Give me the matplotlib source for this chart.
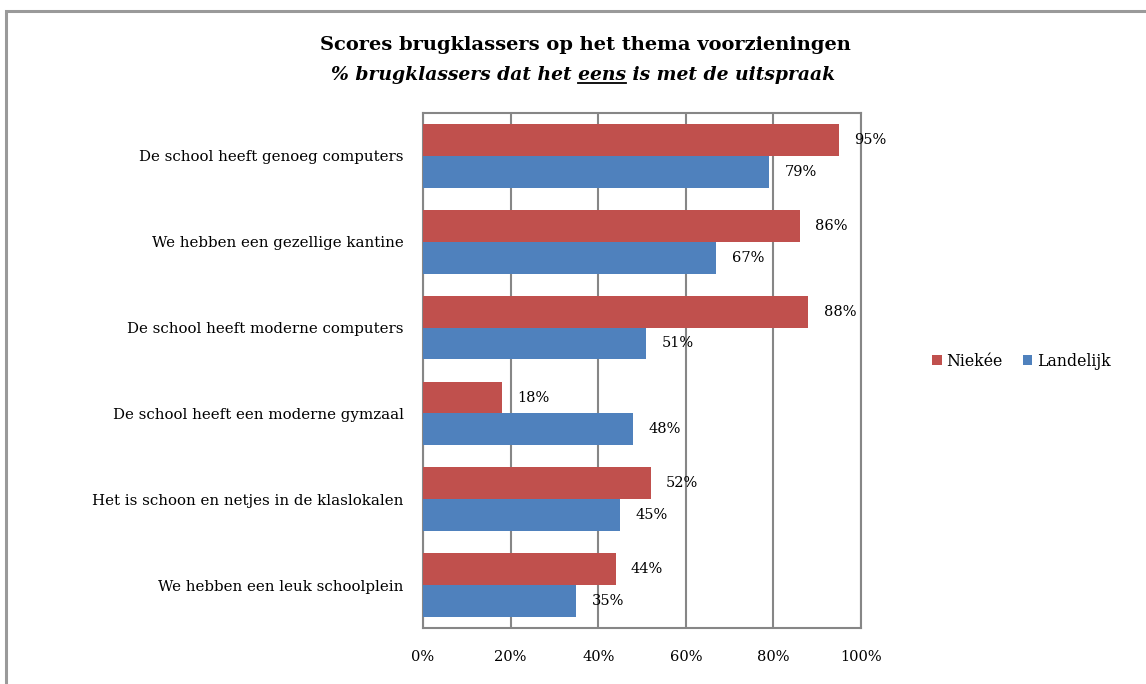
import numpy as np
import matplotlib
matplotlib.use("Agg")
import matplotlib.pyplot as plt
from matplotlib.patches import Rectangle
from matplotlib.lines import Line2D

plt.rcParams['font.family'] = ['DejaVu Serif']

categories = [
    "De school heeft genoeg computers",
    "We hebben een gezellige kantine",
    "De school heeft moderne computers",
    "De school heeft een moderne gymzaal",
    "Het is schoon en netjes in de klaslokalen",
    "We hebben een leuk schoolplein",
]
niekee = [95, 86, 88, 18, 52, 44]
landelijk = [79, 67, 51, 48, 45, 35]
x_ticks = [0, 20, 40, 60, 80, 100]

red = "#C0504D"
blue = "#4F81BD"
grid_col = "#868686"

fig = plt.figure(figsize=(11.46, 6.84), dpi=100)
ax = fig.add_axes([423 / 1146, 1 - 628 / 684, 438 / 1146, 515 / 684])

y = np.arange(len(categories))
h = 0.37
ax.barh(y - h / 2, niekee, height=h, color=red, label="Niekée", zorder=3)
ax.barh(y + h / 2, landelijk, height=h, color=blue, label="Landelijk", zorder=3)

# data labels
for i in range(len(categories)):
    ax.annotate(f"{niekee[i]}%", (niekee[i], y[i] - h / 2), xytext=(11, 0),
                textcoords="offset points", va="center", ha="left", fontsize=10.5, zorder=4)
    ax.annotate(f"{landelijk[i]}%", (landelijk[i], y[i] + h / 2), xytext=(11, 0),
                textcoords="offset points", va="center", ha="left", fontsize=10.5, zorder=4)

ax.set_xlim(0, 100)
ax.set_ylim(len(categories) - 0.5, -0.5)
ax.set_xticks(x_ticks)
ax.set_xticklabels([f"{t}%" for t in x_ticks], fontsize=10.5)
ax.set_yticks(y)
ax.set_yticklabels(categories, fontsize=10.8)
ax.tick_params(axis='x', length=0, pad=16)
ax.tick_params(axis='y', length=0, pad=14)
ax.grid(axis='x', color=grid_col, linewidth=1.5, zorder=0)
for s in ax.spines.values():
    s.set_color(grid_col)
    s.set_linewidth(1.5)

fig.legend(loc="center left", bbox_to_anchor=(918 / 1146, 1 - 361 / 684), frameon=False,
           ncol=2, fontsize=11.3, handlelength=0.6, handleheight=0.6, handletextpad=0.3,
           columnspacing=1.3)

# titles
fig.text(585 / 1146, 1 - 45 / 684, "Scores brugklassers op het thema voorzieningen",
         ha="center", va="center", fontsize=14, fontweight="bold")
sub_full = "% brugklassers dat het eens is met de uitspraak"
sub_kw = dict(fontsize=13.5, style="italic", fontweight="bold")
sub = fig.text(583 / 1146, 1 - 75 / 684, sub_full, ha="center", va="center", **sub_kw)

# underline under "eens"
renderer = fig.canvas.get_renderer()
bb = sub.get_window_extent(renderer)
tmp = fig.text(0, 0, "% brugklassers dat het ", **sub_kw)
w_pre = tmp.get_window_extent(renderer).width
tmp.remove()
tmp = fig.text(0, 0, "eens", **sub_kw)
w_eens = tmp.get_window_extent(renderer).width
tmp.remove()
x0 = (bb.x0 + w_pre) / 1146
x1 = (bb.x0 + w_pre + w_eens) / 1146
uy = (bb.y0 + 1) / 684
fig.add_artist(Line2D([x0, x1], [uy, uy], transform=fig.transFigure, color="black", linewidth=1.3))

# outer frame
fig.add_artist(Rectangle((6 / 1146, -0.1), 1.2, 1 - 11 / 684 + 0.1, transform=fig.transFigure,
                         fill=False, edgecolor="#9A9A9A", linewidth=2.2))

fig.savefig("out.png", dpi=100)
